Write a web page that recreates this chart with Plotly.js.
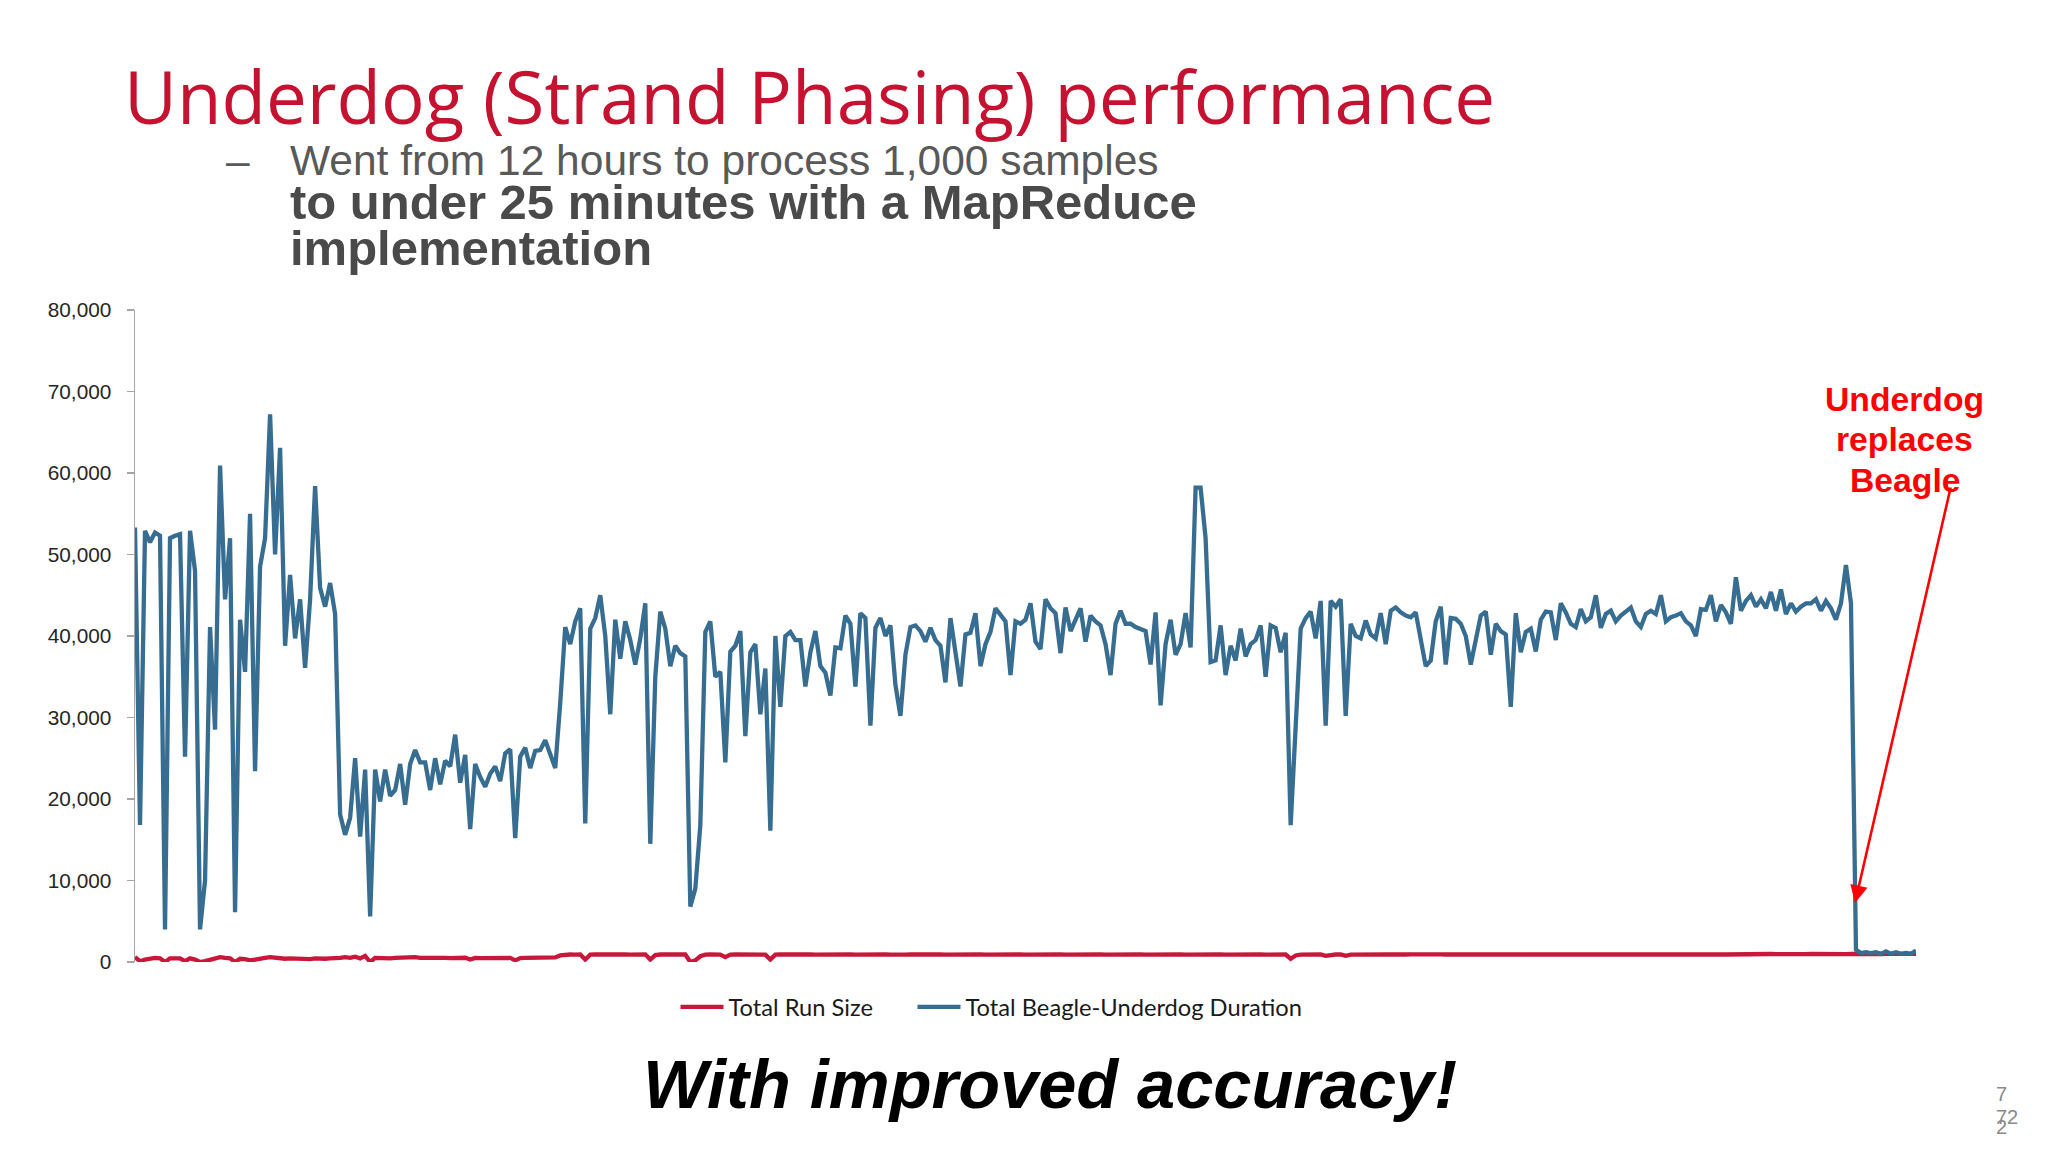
<!DOCTYPE html>
<html>
<head>
<meta charset="utf-8">
<script src="https://cdn.plot.ly/plotly-3.0.1.min.js"></script>
<style>
  html, body { margin: 0; padding: 0; background: #ffffff; }
  #chart { width: 2048px; height: 1152px; }
</style>
</head>
<body>
<div id="chart"></div>
<script>
// ---------------- DATA ----------------
const seriesNames = ["Total Run Size", "Total Beagle-Underdog Duration"];

const totalBeagleUnderdogDuration = [
  53300,16800,52900,51500,52700,52300,4000,52000,52300,52500,
  25200,52900,48000,4000,10000,41100,28500,60900,44500,52000,
  6100,42000,35600,55000,23400,48500,52000,67200,50000,63100,
  38800,47500,39700,44500,36100,44500,58400,45900,43600,46500,
  42700,18100,15600,17700,25000,15400,23600,5600,23600,19700,
  23600,20400,21100,24300,19300,24300,26000,24500,24500,21100,
  25000,21800,24700,24000,27900,22000,25400,16300,24300,22700,
  21500,23100,24000,22200,25600,26100,15200,25200,26300,23800,
  25900,26000,27200,25500,23800,31800,41100,39000,41800,43400,
  17000,40900,42200,45000,40000,30400,42000,37200,41800,39500,
  36500,39700,44000,14500,35000,43000,40900,36300,38800,37900,
  37500,6800,9000,16800,40500,41800,35000,35600,24500,38100,
  38800,40600,27700,38000,39000,30400,36000,16100,40000,31300,
  40000,40500,39500,39500,33800,38000,40600,36300,35500,32700,
  38600,38500,42500,41500,33800,42800,42200,29000,41000,42200,
  40000,41300,34000,30200,37700,41100,41300,40600,39300,41000,
  39500,38800,34300,42200,37700,33800,40200,40400,42800,36300,
  39000,40500,43400,42500,41800,35200,41800,41500,42000,44000,
  39300,38400,44500,43400,42800,37900,43500,40600,42000,43400,
  39300,42500,41800,41300,39000,35200,41500,43100,41500,41500,
  41100,40900,40600,36500,42900,31500,39000,42000,37700,39000,
  42800,38600,58200,58200,52000,36800,37000,41300,35200,38800,
  37000,40900,37500,39000,39500,41300,35000,41300,41000,38000,
  40400,16800,28000,40900,42200,43000,39700,44300,29000,44300,
  43600,44500,30200,41500,40000,39700,41900,40200,39700,42800,
  39000,43100,43500,42900,42500,42300,42900,39300,36300,37000,
  41800,43600,36500,42200,42100,41500,40000,36500,39500,42500,
  43000,37700,41500,40600,40200,31300,42800,38000,40500,40900,
  38100,42000,43000,42900,39500,44000,42900,41500,41100,43300,
  41800,42300,45000,41000,42700,43100,41800,42500,43000,43500,
  41800,41100,42700,43100,42700,45000,41800,42300,42500,42800,
  41800,41300,40000,43300,43200,45000,41800,43800,42900,41500,
  47200,43100,44300,45000,43600,44500,43400,45400,43100,45700,
  42700,44000,43000,43600,44000,44000,44500,43100,44300,43400,
  42000,44000,48700,44000,1500,1100,1200,1100,1200,1000,
  1300,1000,1200,1000,1100,1000,1400
];

const totalRunSize = [
  600,100,300,450,500,450,0,450,500,450,100,450,300,0,100,300,400,600,500,450,
  0,400,350,200,300,450,500,600,500,450,400,450,400,350,400,350,450,400,400,450,
  450,500,600,500,650,450,750,0,500,450,500,450,500,550,500,550,600,500,520,480,
  500,520,500,480,450,480,520,300,500,480,500,520,480,500,520,500,200,480,500,520,
  500,520,500,540,560,800,900,920,900,920,300,900,920,940,900,920,900,940,920,900,
  920,900,940,300,850,920,900,940,920,900,920,0,200,700,900,920,940,900,600,900,
  920,900,940,920,900,920,900,300,900,920,940,900,920,900,940,920,900,920,900,940,
  920,900,920,940,900,920,900,940,920,900,920,900,940,920,900,920,940,900,920,900,
  940,920,900,920,940,900,920,900,940,920,900,920,940,900,920,900,940,920,900,920,
  900,940,920,900,920,940,900,920,900,940,920,900,920,940,900,920,900,940,920,900,
  920,940,900,920,900,940,920,900,920,940,900,920,900,940,920,900,920,940,900,920,
  900,940,920,900,920,940,900,920,900,940,920,400,800,900,920,940,900,920,750,900,
  920,940,750,900,920,940,960,920,940,960,940,920,960,940,920,940,960,940,920,940,
  960,940,920,940,960,940,920,940,960,940,920,940,960,940,920,940,960,940,920,940,
  960,940,920,940,960,940,920,940,960,940,920,940,960,940,920,940,960,940,920,940,
  960,940,920,940,960,940,920,940,960,940,920,940,960,940,920,940,960,940,920,940,
  960,940,960,980,960,940,960,980,960,940,960,980,960,940,960,980,960,940,960,980,
  960,940,960,980,960,980,1000,980,960,980,1000,980,960,980,1000,980,1000
];

const yTickValues = [0, 10000, 20000, 30000, 40000, 50000, 60000, 70000, 80000];
const yTickLabels = ["0", "10,000", "20,000", "30,000", "40,000", "50,000", "60,000", "70,000", "80,000"];

// run number = category position
const runNumber = totalBeagleUnderdogDuration.map((_, i) => i + 1);

// ---------------- LAYOUT HELPERS ----------------
const W = 2048, H = 1152;
const M = { l: 135, r: 132, t: 310, b: 190 };
const PW = W - M.l - M.r, PH = H - M.t - M.b;
const px = x => (x - M.l) / PW;         // pixel -> paper x
const py = y => (H - M.b - y) / PH;     // pixel -> paper y

const RED = "#C8173A";
const BLUE = "#376D91";

const traces = [
  {
    type: "scatter", mode: "lines", name: seriesNames[0],
    x: runNumber, y: totalRunSize,
    line: { color: RED, width: 4.3 },
    legend: "legend",
    hoverinfo: "skip"
  },
  {
    type: "scatter", mode: "lines", name: seriesNames[1],
    x: runNumber, y: totalBeagleUnderdogDuration,
    line: { color: BLUE, width: 4.3 },
    legend: "legend2",
    hoverinfo: "skip"
  }
];

const bodyFont = "Liberation Sans, Arial, sans-serif";
const legendFont = { family: "Lato, Carlito, Calibri, sans-serif", size: 23.7, color: "#1a1a1a" };

const layout = {
  width: W, height: H,
  margin: M,
  paper_bgcolor: "#ffffff",
  plot_bgcolor: "#ffffff",
  showlegend: true,
  xaxis: {
    range: [1, runNumber.length],
    showgrid: false, zeroline: false, showline: false,
    showticklabels: false, ticks: ""
  },
  yaxis: {
    range: [0, 80000],
    tickvals: yTickValues, ticktext: yTickLabels,
    showgrid: false, zeroline: false,
    showline: true, linecolor: "#a6a6a6", linewidth: 1.5,
    ticks: "outside", ticklen: 7, tickwidth: 1.5, tickcolor: "#a6a6a6",
    ticklabelstandoff: 11,
    tickfont: { family: bodyFont, size: 20.8, color: "#262626" }
  },
  legend: {
    orientation: "h",
    x: px(675.5), xanchor: "left",
    y: py(1007), yanchor: "middle",
    font: legendFont, itemwidth: 43,
    bgcolor: "rgba(0,0,0,0)"
  },
  legend2: {
    orientation: "h",
    x: px(912.5), xanchor: "left",
    y: py(1007), yanchor: "middle",
    font: legendFont, itemwidth: 43,
    bgcolor: "rgba(0,0,0,0)"
  },
  annotations: [
    { text: "Underdog (Strand Phasing) performance", xref: "paper", yref: "paper",
      x: px(121.5), xanchor: "left", y: py(96), yanchor: "middle", showarrow: false,
      font: { family: "Open Sans, sans-serif", size: 72.7, color: "#C41230" } },
    { text: "–", xref: "paper", yref: "paper",
      x: px(224), xanchor: "left", y: py(160), yanchor: "middle", showarrow: false,
      font: { family: bodyFont, size: 42.5, color: "#595959" } },
    { text: "Went from 12 hours to process 1,000 samples", xref: "paper", yref: "paper",
      x: px(287.5), xanchor: "left", y: py(160.3), yanchor: "middle", showarrow: false,
      font: { family: bodyFont, size: 42.5, color: "#595959" } },
    { text: "<b>to under 25 minutes with a MapReduce</b>", xref: "paper", yref: "paper",
      x: px(287.5), xanchor: "left", y: py(202.4), yanchor: "middle", showarrow: false,
      font: { family: bodyFont, size: 49, color: "#4a4a4a" } },
    { text: "<b>implementation</b>", xref: "paper", yref: "paper",
      x: px(287.5), xanchor: "left", y: py(248), yanchor: "middle", showarrow: false,
      font: { family: bodyFont, size: 49, color: "#4a4a4a" } },
    { text: "<b><i>With improved accuracy!</i></b>", xref: "paper", yref: "paper",
      x: px(1050), xanchor: "center", y: py(1084), yanchor: "middle", showarrow: false,
      font: { family: bodyFont, size: 68.5, color: "#000000" } },
    { text: "<b>Underdog</b>", xref: "paper", yref: "paper",
      x: px(1904.5), xanchor: "center", y: py(398.5), yanchor: "middle", showarrow: false,
      font: { family: bodyFont, size: 33.7, color: "#FF0000" } },
    { text: "<b>replaces</b>", xref: "paper", yref: "paper",
      x: px(1904.5), xanchor: "center", y: py(439), yanchor: "middle", showarrow: false,
      font: { family: bodyFont, size: 33.7, color: "#FF0000" } },
    { text: "<b>Beagle</b>", xref: "paper", yref: "paper",
      x: px(1904.5), xanchor: "center", y: py(480), yanchor: "middle", showarrow: false,
      font: { family: bodyFont, size: 33.7, color: "#FF0000" } },
    { text: "", xref: "paper", yref: "paper",
      x: px(1855), y: py(903), ax: 96, ay: -417,
      showarrow: true, arrowhead: 2, arrowsize: 1.35, arrowwidth: 2.6,
      arrowcolor: "#FF0000", standoff: 0 },
    { text: "7", xref: "paper", yref: "paper",
      x: px(2001), xanchor: "center", y: py(1094), yanchor: "middle", showarrow: false,
      font: { family: bodyFont, size: 20, color: "#8a8a8a" } },
    { text: "72", xref: "paper", yref: "paper",
      x: px(2007), xanchor: "center", y: py(1117), yanchor: "middle", showarrow: false,
      font: { family: bodyFont, size: 20, color: "#8a8a8a" } },
    { text: "2", xref: "paper", yref: "paper",
      x: px(2001), xanchor: "center", y: py(1127), yanchor: "middle", showarrow: false,
      font: { family: bodyFont, size: 20, color: "#8a8a8a" } }
  ]
};

Plotly.newPlot("chart", traces, layout, { displayModeBar: false, staticPlot: true });
</script>
</body>
</html>
